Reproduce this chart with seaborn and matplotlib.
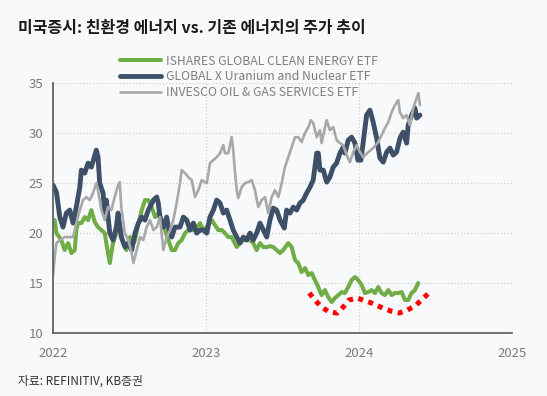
import numpy as np
import pandas as pd
import matplotlib
matplotlib.use("Agg")
import matplotlib.pyplot as plt
import matplotlib.dates as mdates
import seaborn as sns

# x values are years since 2022-01-01, y values are prices
clean_t = [0.000, 0.011, 0.022, 0.054, 0.076, 0.098, 0.120, 0.142, 0.152, 0.163,
           0.185, 0.207, 0.229, 0.250, 0.273, 0.294, 0.316, 0.338, 0.348, 0.371,
           0.392, 0.414, 0.436, 0.458, 0.479, 0.503, 0.514, 0.536, 0.558, 0.580,
           0.601, 0.623, 0.645, 0.667, 0.688, 0.710, 0.732, 0.754, 0.776, 0.797,
           0.819, 0.841, 0.863, 0.884, 0.928, 0.961, 0.982, 1.005, 1.037, 1.059,
           1.080, 1.103, 1.124, 1.146, 1.168, 1.201, 1.222, 1.244, 1.266, 1.288,
           1.309, 1.331, 1.353, 1.375, 1.397, 1.418, 1.440, 1.462, 1.484, 1.505,
           1.538, 1.560, 1.582, 1.603, 1.625, 1.647, 1.669, 1.691, 1.712, 1.734,
           1.756, 1.778, 1.799, 1.822, 1.843, 1.865, 1.887, 1.908, 1.930, 1.952,
           1.974, 1.995, 2.018, 2.039, 2.061, 2.083, 2.105, 2.126, 2.148, 2.170,
           2.192, 2.214, 2.235, 2.257, 2.279, 2.301, 2.322, 2.344, 2.366, 2.388]
clean_px = [21.2, 21.3, 20.0, 19.3, 18.3, 19.0, 18.0, 18.3, 20.3, 21.0,
            21.0, 21.6, 21.3, 22.3, 21.1, 20.6, 20.3, 20.0, 19.0, 17.0,
            19.0, 20.0, 20.6, 19.0, 18.3, 19.6, 18.6, 19.3, 21.0, 22.3,
            23.3, 23.3, 22.6, 21.6, 22.0, 21.3, 20.3, 19.3, 18.3, 18.3,
            19.0, 19.3, 20.0, 20.3, 20.3, 21.0, 20.3, 20.6, 21.3, 20.8,
            20.3, 20.3, 20.0, 19.6, 19.6, 18.6, 19.0, 19.3, 19.3, 19.3,
            19.0, 18.3, 19.0, 18.6, 18.6, 18.7, 18.6, 18.3, 18.0, 18.3,
            19.0, 18.6, 17.3, 17.0, 16.1, 16.5, 15.8, 16.0, 15.3, 14.6,
            13.8, 14.3, 13.6, 13.1, 13.5, 13.8, 14.1, 14.0, 14.6, 15.3,
            15.6, 15.3, 14.8, 14.0, 14.1, 14.3, 14.0, 14.6, 14.0, 13.8,
            14.3, 13.8, 14.0, 14.0, 14.1, 13.3, 13.3, 14.0, 14.3, 15.0]

uranium_t = [0.000, 0.022, 0.044, 0.065, 0.087, 0.109, 0.131, 0.152, 0.175, 0.185,
             0.207, 0.229, 0.250, 0.283, 0.294, 0.305, 0.327, 0.338, 0.348, 0.371,
             0.392, 0.414, 0.425, 0.446, 0.471, 0.492, 0.514, 0.536, 0.558, 0.580,
             0.601, 0.623, 0.656, 0.678, 0.688, 0.699, 0.721, 0.743, 0.754, 0.776,
             0.797, 0.830, 0.852, 0.874, 0.895, 0.917, 0.939, 0.961, 0.982, 1.005,
             1.026, 1.048, 1.070, 1.092, 1.113, 1.135, 1.157, 1.178, 1.201, 1.222,
             1.244, 1.266, 1.288, 1.309, 1.331, 1.353, 1.375, 1.397, 1.418, 1.440,
             1.462, 1.484, 1.512, 1.527, 1.549, 1.571, 1.593, 1.614, 1.636, 1.658,
             1.680, 1.701, 1.712, 1.724, 1.734, 1.745, 1.767, 1.789, 1.810, 1.832,
             1.854, 1.876, 1.897, 1.908, 1.930, 1.952, 1.974, 1.993, 2.013, 2.028,
             2.050, 2.072, 2.093, 2.116, 2.137, 2.159, 2.181, 2.203, 2.224, 2.246,
             2.268, 2.289, 2.312, 2.322, 2.344, 2.366, 2.377, 2.399]
uranium_px = [24.8, 24.1, 21.6, 20.6, 22.0, 22.3, 21.0, 22.6, 24.6, 26.3,
              26.0, 27.0, 26.6, 28.3, 27.6, 25.0, 24.0, 22.0, 23.3, 20.0,
              19.3, 20.6, 22.0, 19.6, 18.6, 19.0, 18.3, 20.0, 21.0, 21.6,
              21.3, 22.3, 23.3, 23.6, 23.0, 21.6, 20.6, 21.6, 20.6, 19.6,
              20.6, 20.6, 21.6, 21.3, 20.3, 21.0, 20.0, 20.3, 20.3, 20.0,
              21.6, 22.3, 23.3, 23.0, 22.0, 22.3, 21.3, 20.3, 19.6, 19.0,
              19.6, 19.3, 20.0, 19.3, 20.0, 21.0, 20.3, 19.6, 21.3, 22.5,
              22.3, 21.3, 20.5, 22.3, 22.0, 22.6, 22.3, 23.0, 23.3, 24.0,
              24.6, 25.3, 26.6, 28.0, 28.0, 26.3, 26.3, 25.1, 25.6, 26.6,
              27.0, 28.0, 28.6, 28.0, 29.3, 29.6, 29.0, 27.3, 27.3, 29.1,
              31.8, 32.3, 31.1, 29.5, 27.5, 27.1, 28.1, 28.5, 27.8, 28.1,
              29.5, 30.1, 29.0, 30.8, 31.8, 32.5, 31.5, 31.8]

oil_t = [0.000, 0.010, 0.022, 0.044, 0.076, 0.098, 0.131, 0.152, 0.175, 0.196,
         0.218, 0.240, 0.261, 0.283, 0.294, 0.316, 0.338, 0.359, 0.381, 0.403,
         0.425, 0.436, 0.446, 0.469, 0.492, 0.514, 0.525, 0.547, 0.569, 0.590,
         0.612, 0.634, 0.656, 0.678, 0.699, 0.721, 0.743, 0.765, 0.786, 0.808,
         0.830, 0.841, 0.863, 0.884, 0.907, 0.928, 0.950, 0.972, 1.005, 1.026,
         1.048, 1.070, 1.092, 1.113, 1.124, 1.146, 1.168, 1.178, 1.190, 1.201,
         1.211, 1.233, 1.255, 1.276, 1.299, 1.320, 1.342, 1.364, 1.386, 1.407,
         1.429, 1.451, 1.473, 1.495, 1.516, 1.538, 1.560, 1.582, 1.603, 1.625,
         1.647, 1.669, 1.686, 1.701, 1.724, 1.745, 1.756, 1.778, 1.789, 1.810,
         1.832, 1.854, 1.876, 1.897, 1.920, 1.941, 1.963, 1.985, 2.007, 2.028,
         2.061, 2.093, 2.126, 2.148, 2.170, 2.192, 2.214, 2.235, 2.257, 2.268,
         2.289, 2.312, 2.333, 2.355, 2.377, 2.388, 2.399]
oil_px = [15.8, 17.5, 19.0, 19.3, 19.6, 19.6, 19.6, 21.0, 22.3, 23.3,
          23.6, 23.3, 24.0, 25.0, 24.3, 22.3, 21.3, 22.6, 22.3, 23.6,
          24.8, 25.1, 22.6, 20.0, 19.3, 18.0, 17.0, 18.3, 19.6, 19.3,
          20.6, 21.3, 20.3, 20.6, 21.6, 18.3, 19.6, 20.3, 21.3, 23.0,
          25.0, 26.3, 26.0, 25.6, 25.3, 23.6, 24.3, 25.3, 25.0, 27.0,
          27.3, 27.6, 28.0, 28.8, 28.0, 28.0, 29.6, 28.3, 26.0, 24.3,
          23.5, 24.6, 25.0, 25.1, 25.3, 24.3, 22.6, 23.3, 23.6, 22.0,
          23.6, 24.3, 23.6, 25.0, 26.6, 27.6, 28.6, 29.6, 29.6, 29.1,
          30.0, 30.6, 31.3, 31.0, 29.6, 30.3, 29.0, 30.6, 31.3, 30.3,
          30.6, 29.3, 29.0, 28.8, 27.8, 27.1, 28.1, 28.8, 28.1, 27.6,
          28.1, 28.5, 29.1, 29.8, 30.5, 31.1, 32.1, 32.8, 33.3, 32.1,
          31.5, 31.8, 30.8, 32.5, 33.5, 34.0, 32.8]

# hand-drawn red dotted trough under the clean energy line
trough_t = [1.675, 1.712, 1.756, 1.806, 1.858, 1.897, 1.935, 1.989, 2.046,
            2.100, 2.155, 2.209, 2.263, 2.318, 2.373, 2.416, 2.456]
trough_px = [14.0, 13.3, 12.6, 12.1, 12.0, 12.6, 13.3, 13.5, 13.2,
             12.9, 12.5, 12.2, 12.0, 12.3, 12.8, 13.4, 14.0]

labels = ["ISHARES GLOBAL CLEAN ENERGY ETF",
          "GLOBAL X Uranium and Nuclear ETF",
          "INVESCO OIL & GAS SERVICES ETF"]
year_ticks = ["2022-01-01", "2023-01-01", "2024-01-01", "2025-01-01"]
y_ticks = [10, 15, 20, 25, 30, 35]


def to_dates(t):
    return pd.Timestamp("2022-01-01") + pd.to_timedelta(np.array(t) * 365.25, unit="D")


sns.set_style("white")
plt.rcParams['font.family'] = ['Noto Sans CJK KR', 'DejaVu Sans']

bg = "#f7f9fb"
axis_col = "#595959"
tick_col = "#7a7a7a"

fig = plt.figure(figsize=(5.47, 3.96), dpi=100, facecolor=bg)
ax = fig.add_axes([0.097, 0.159, 0.839, 0.631], facecolor=bg)

sns.lineplot(x=to_dates(clean_t), y=clean_px, color="#70ad47", linewidth=2.9,
             label=labels[0], ax=ax)
sns.lineplot(x=to_dates(uranium_t), y=uranium_px, color="#3e4f68", linewidth=3.5,
             label=labels[1], ax=ax)
sns.lineplot(x=to_dates(oil_t), y=oil_px, color="#a8a8a8", linewidth=1.9,
             label=labels[2], ax=ax)
sns.lineplot(x=to_dates(trough_t), y=trough_px, color="#ff0000", linewidth=3.6,
             linestyle=(0, (1, 1.1)), ax=ax)

ax.set_xlim(pd.Timestamp(year_ticks[0]), pd.Timestamp(year_ticks[-1]))
ax.set_ylim(y_ticks[0], y_ticks[-1])
ax.set_xticks(pd.to_datetime(year_ticks))
ax.xaxis.set_major_formatter(mdates.DateFormatter("%Y"))
ax.set_yticks(y_ticks)
ax.set_xlabel("")
ax.set_ylabel("")

ax.grid(True, linestyle=":", color="#cfcfcf", linewidth=0.9)
for s in ["top", "right"]:
    ax.spines[s].set_visible(False)
for s in ["left", "bottom"]:
    ax.spines[s].set_color(axis_col)
    ax.spines[s].set_linewidth(1.2)
ax.tick_params(axis="both", direction="out", length=4, width=1.1, color=axis_col,
               labelcolor=tick_col, labelsize=9.5)
ax.tick_params(axis="x", pad=6)
ax.tick_params(axis="y", pad=3)

handles, labs = ax.get_legend_handles_labels()
ax.get_legend().remove()
fig.legend(handles[:3], labs[:3], loc="upper left", bbox_to_anchor=(0.219, 0.862),
           frameon=False, fontsize=8.8, labelcolor="#7f7f7f", handlelength=3.4,
           handletextpad=0.4, labelspacing=0.22, borderpad=0, borderaxespad=0)

fig.text(18 / 547, 1 - 28 / 396, "미국증시: 친환경 에너지 vs. 기존 에너지의 주가 추이",
         fontsize=11.5, fontweight="bold", color="#1a1a1a", va="center", ha="left")
fig.text(18 / 547, 1 - 381 / 396, "자료: REFINITIV, KB증권",
         fontsize=8.5, color="#333333", va="center", ha="left")

fig.savefig("out.png", dpi=100, facecolor=bg)
